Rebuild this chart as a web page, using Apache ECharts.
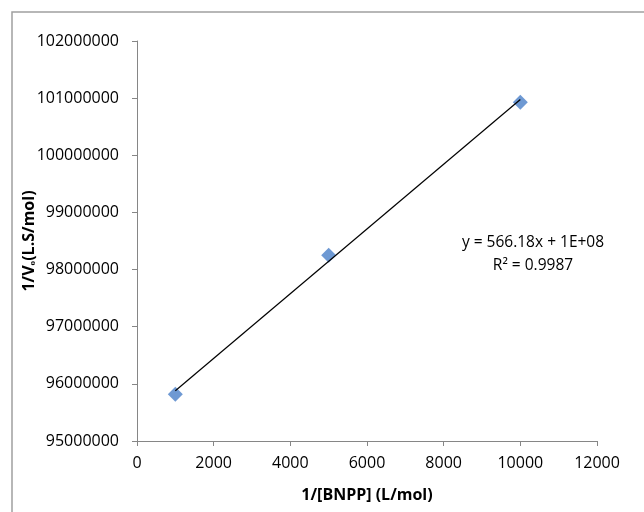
<!DOCTYPE html>
<html>
<head>
<meta charset="utf-8">
<script src="https://cdn.jsdelivr.net/npm/echarts@6/dist/echarts.min.js"></script>
<style>html,body{margin:0;padding:0;background:#fff}#c{width:644px;height:512px}</style>
</head>
<body>
<div id="c"></div>
<script>
var xValues = [1000, 5000, 10000];
var yValues = [95820000, 98250000, 100930000];
var xTicks = [0, 2000, 4000, 6000, 8000, 10000, 12000];
var yTicks = [95000000, 96000000, 97000000, 98000000, 99000000, 100000000, 101000000, 102000000];
var equationText = 'y = 566.18x + 1E+08';
var r2Text = 'R² = 0.9987';
var xTitle = '1/[BNPP] (L/mol)';
var yTitle = '1/V\u2092(L.S/mol)';

// least-squares trendline from the data
var n = xValues.length, mx = 0, my = 0;
for (var i = 0; i < n; i++) { mx += xValues[i]; my += yValues[i]; }
mx /= n; my /= n;
var sxy = 0, sxx = 0;
for (var i = 0; i < n; i++) { sxy += (xValues[i]-mx)*(yValues[i]-my); sxx += (xValues[i]-mx)*(xValues[i]-mx); }
var slope = sxy / sxx, icpt = my - slope * mx;
var xmin = Math.min.apply(null, xValues), xmax = Math.max.apply(null, xValues);
var trend = [[xmin, icpt + slope*xmin], [xmax, icpt + slope*xmax]];

var FONT = 'Open Sans';
var chart = echarts.init(document.getElementById('c'), null, {renderer: 'canvas'});
chart.setOption({
  animation: false,
  backgroundColor: '#fff',
  textStyle: {fontFamily: FONT},
  grid: {left: 137, top: 41, right: 47, bottom: 71, containLabel: false},
  graphic: [
    {type: 'rect', shape: {x: 12, y: 12, width: 700, height: 600}, style: {fill: 'none', stroke: '#a0a0a0', lineWidth: 1.5}, silent: true, z: 0},
    {type: 'text', style: {text: equationText, x: 533, y: 243, align: 'center', verticalAlign: 'middle', fontFamily: FONT, fontSize: 15.5, fill: '#000'}, z: 10},
    {type: 'text', style: {text: r2Text, x: 533, y: 266, align: 'center', verticalAlign: 'middle', fontFamily: FONT, fontSize: 15.5, fill: '#000'}, z: 10}
  ],
  xAxis: {
    type: 'value', min: xTicks[0], max: xTicks[xTicks.length-1], interval: xTicks[1]-xTicks[0],
    name: xTitle, nameLocation: 'middle', nameGap: 46, nameMoveOverlap: false,
    nameTextStyle: {fontFamily: FONT, fontSize: 16, fontWeight: 'bold', color: '#000'},
    axisLine: {show: true, lineStyle: {color: '#868686', width: 1}},
    axisTick: {show: true, inside: false, length: 5, lineStyle: {color: '#868686'}},
    axisLabel: {fontFamily: FONT, fontSize: 16, color: '#000', margin: 14, formatter: function (v) { return String(v); }},
    splitLine: {show: false}
  },
  yAxis: {
    type: 'value', min: yTicks[0], max: yTicks[yTicks.length-1], interval: yTicks[1]-yTicks[0],
    name: yTitle, nameLocation: 'middle', nameGap: 100, nameRotate: 90, nameMoveOverlap: false,
    nameTextStyle: {fontFamily: FONT, fontSize: 16, fontWeight: 'bold', color: '#000'},
    axisLine: {show: true, lineStyle: {color: '#868686', width: 1}},
    axisTick: {show: true, inside: false, length: 5, lineStyle: {color: '#868686'}},
    axisLabel: {fontFamily: FONT, fontSize: 16, color: '#000', margin: 18, formatter: function (v) { return String(v); }},
    splitLine: {show: false}
  },
  series: [
    {
      type: 'scatter', symbol: 'diamond', symbolSize: 15,
      itemStyle: {color: '#4a7fc8'},
      data: xValues.map(function (x, i) { return [x, yValues[i]]; }),
      z: 2
    },
    {
      type: 'line', data: trend, symbol: 'none', lineStyle: {color: '#000', width: 1.2}, z: 3, silent: true
    }
  ]
});
</script>
</body>
</html>
